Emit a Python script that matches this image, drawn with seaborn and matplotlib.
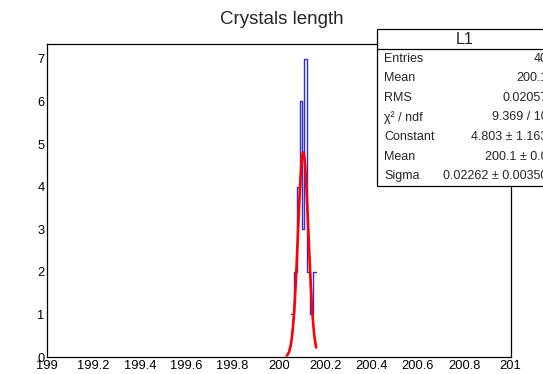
import numpy as np
import pandas as pd
import matplotlib
matplotlib.use("Agg")
import matplotlib.pyplot as plt
from matplotlib.patches import Rectangle
from matplotlib.ticker import MultipleLocator
import seaborn as sns

# ---- data ----
bin_edges = [200.051, 200.065, 200.080, 200.091, 200.101, 200.110,
             200.123, 200.134, 200.149, 200.160]
bin_counts = [1, 2, 4, 6, 3, 7, 2, 1, 2]

fit_constant = 4.803
fit_mean = 200.105
fit_sigma = 0.02262
fit_range = (200.034, 200.161)

stat_labels = ["Entries", "Mean", "RMS", "\u03c7\u00b2 / ndf", "Constant", "Mean", "Sigma"]
stat_values = ["40", "200.1", "0.02057", "9.369 / 10", "4.803 \u00b1 1.163",
               "200.1 \u00b1 0.0", "0.02262 \u00b1 0.00350"]
title = "Crystals length"
hist_name = "L1"

sns.set_theme(style="white")
plt.rcParams["font.family"] = ["Liberation Sans", "DejaVu Sans"]

W, H = 543, 374
fig = plt.figure(figsize=(W / 100, H / 100), dpi=100)
fig.patch.set_facecolor("white")

x0, x1, ytop, ybot = 47.3, 510.5, 44.0, 357.0
ax = fig.add_axes([x0 / W, (H - ybot) / H, (x1 - x0) / W, (ybot - ytop) / H])

edges = np.array(bin_edges)
centers = (edges[:-1] + edges[1:]) / 2
df = pd.DataFrame({"x": centers, "w": bin_counts})
sns.histplot(data=df, x="x", weights="w", bins=bin_edges, element="step",
             fill=False, color="#3030c8", linewidth=1.0, ax=ax)

# fitted gaussian from the fit parameters
xs = np.linspace(fit_range[0], fit_range[1], 120)
ys = fit_constant * np.exp(-0.5 * ((xs - fit_mean) / fit_sigma) ** 2)
sns.lineplot(x=xs, y=ys, color="red", linewidth=1.9, ax=ax)

ax.set_xlim(199, 201)
ax.set_ylim(0, 7.35)
ax.set_xlabel("")
ax.set_ylabel("")
ax.xaxis.set_major_locator(MultipleLocator(0.2))
ax.xaxis.set_minor_locator(MultipleLocator(0.05))
ax.yaxis.set_major_locator(MultipleLocator(1))
ax.yaxis.set_minor_locator(MultipleLocator(0.2))
ax.set_xticklabels([f"{v:g}" for v in ax.get_xticks()])
ax.tick_params(axis="both", which="both", direction="in", top=False, right=False,
               colors="black", labelsize=9.3)
ax.tick_params(axis="x", which="major", length=6.5, width=0.8, pad=2)
ax.tick_params(axis="x", which="minor", length=3.3, width=0.8)
ax.tick_params(axis="y", which="major", length=9.4, width=0.8, pad=2)
ax.tick_params(axis="y", which="minor", length=4.7, width=0.8)
for s in ax.spines.values():
    s.set_color("black")
    s.set_linewidth(0.9)
ax.grid(False)

fig.text(282 / W, 1 - 19 / H, title, ha="center", va="center", fontsize=13.5)

# stats box
bx0, by0, bx1, by1 = 377.5, 29.0, 552.0, 186.0
sep = 49.0
fig.patches.append(Rectangle((bx0 / W, 1 - by1 / H), (bx1 - bx0) / W, (by1 - by0) / H,
                             transform=fig.transFigure, facecolor="white",
                             edgecolor="black", linewidth=0.9, zorder=5))
fig.lines.append(plt.Line2D([bx0 / W, bx1 / W], [1 - sep / H, 1 - sep / H],
                            transform=fig.transFigure, color="black", linewidth=0.9, zorder=6))
fig.text((bx0 + bx1) / 2 / W, 1 - (by0 + sep) / 2 / H, hist_name, ha="center", va="center",
         fontsize=11.5, zorder=7)
nrows = len(stat_labels)
rh = (by1 - sep) / nrows
for i, (lab, val) in enumerate(zip(stat_labels, stat_values)):
    yc = sep + rh * (i + 0.5)
    fig.text(384 / W, 1 - yc / H, lab, ha="left", va="center", fontsize=9.0, zorder=7)
    fig.text(547.5 / W, 1 - yc / H, val, ha="right", va="center", fontsize=9.0, zorder=7)

fig.savefig("out.png", dpi=100)
